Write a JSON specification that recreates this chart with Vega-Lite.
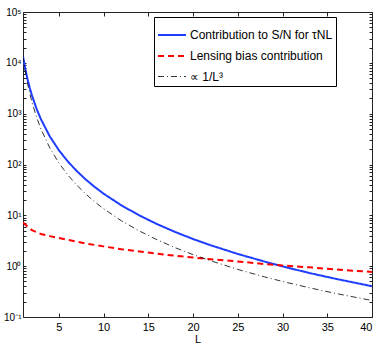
{
  "$schema": "https://vega.github.io/schema/vega-lite/v6.json",
  "width": 349,
  "height": 305,
  "autosize": {"type": "none"},
  "padding": {"left": 23, "top": 12, "right": 10, "bottom": 31},
  "config": {
    "font": "Liberation Sans",
    "view": {"stroke": null},
    "axis": {"grid": false, "domainColor": "#222", "tickColor": "#222", "labelColor": "#000", "labelFont": "Liberation Sans", "titleFont": "Liberation Sans", "titleFontWeight": "normal"},
    "legend": {"title": null, "orient": "none", "legendX": 131, "legendY": 5, "symbolType": "stroke", "symbolSize": 784, "labelFontSize": 12, "labelLimit": 400, "labelOffset": 3, "rowPadding": 0, "padding": 3, "strokeColor": "#000", "fillColor": "#fff", "cornerRadius": 0}
  },
  "data": {"values": [
    {"L": 1, "v": 13500, "s": "Contribution to S/N for τNL"},
    {"L": 1.25, "v": 7700, "s": "Contribution to S/N for τNL"},
    {"L": 1.5, "v": 4830, "s": "Contribution to S/N for τNL"},
    {"L": 1.75, "v": 3240, "s": "Contribution to S/N for τNL"},
    {"L": 2, "v": 2290, "s": "Contribution to S/N for τNL"},
    {"L": 2.5, "v": 1268, "s": "Contribution to S/N for τNL"},
    {"L": 3, "v": 779, "s": "Contribution to S/N for τNL"},
    {"L": 4, "v": 356, "s": "Contribution to S/N for τNL"},
    {"L": 5, "v": 192, "s": "Contribution to S/N for τNL"},
    {"L": 6, "v": 115, "s": "Contribution to S/N for τNL"},
    {"L": 7, "v": 74.7, "s": "Contribution to S/N for τNL"},
    {"L": 8, "v": 50.9, "s": "Contribution to S/N for τNL"},
    {"L": 9, "v": 36.3, "s": "Contribution to S/N for τNL"},
    {"L": 10, "v": 26.7, "s": "Contribution to S/N for τNL"},
    {"L": 12, "v": 15.7, "s": "Contribution to S/N for τNL"},
    {"L": 14, "v": 9.97, "s": "Contribution to S/N for τNL"},
    {"L": 16, "v": 6.7, "s": "Contribution to S/N for τNL"},
    {"L": 18, "v": 4.71, "s": "Contribution to S/N for τNL"},
    {"L": 20, "v": 3.42, "s": "Contribution to S/N for τNL"},
    {"L": 22, "v": 2.57, "s": "Contribution to S/N for τNL"},
    {"L": 25, "v": 1.74, "s": "Contribution to S/N for τNL"},
    {"L": 28, "v": 1.23, "s": "Contribution to S/N for τNL"},
    {"L": 30, "v": 0.99, "s": "Contribution to S/N for τNL"},
    {"L": 33, "v": 0.734, "s": "Contribution to S/N for τNL"},
    {"L": 36, "v": 0.561, "s": "Contribution to S/N for τNL"},
    {"L": 40, "v": 0.403, "s": "Contribution to S/N for τNL"},
    {"L": 1, "v": 7.2, "s": "Lensing bias contribution"},
    {"L": 1.5, "v": 6.0, "s": "Lensing bias contribution"},
    {"L": 2, "v": 5.1, "s": "Lensing bias contribution"},
    {"L": 3, "v": 4.3, "s": "Lensing bias contribution"},
    {"L": 4, "v": 3.9, "s": "Lensing bias contribution"},
    {"L": 5, "v": 3.6, "s": "Lensing bias contribution"},
    {"L": 6, "v": 3.3, "s": "Lensing bias contribution"},
    {"L": 7, "v": 3.05, "s": "Lensing bias contribution"},
    {"L": 8, "v": 2.8, "s": "Lensing bias contribution"},
    {"L": 10, "v": 2.45, "s": "Lensing bias contribution"},
    {"L": 12, "v": 2.15, "s": "Lensing bias contribution"},
    {"L": 15, "v": 1.85, "s": "Lensing bias contribution"},
    {"L": 18, "v": 1.6, "s": "Lensing bias contribution"},
    {"L": 20, "v": 1.48, "s": "Lensing bias contribution"},
    {"L": 22, "v": 1.37, "s": "Lensing bias contribution"},
    {"L": 25, "v": 1.24, "s": "Lensing bias contribution"},
    {"L": 28, "v": 1.1, "s": "Lensing bias contribution"},
    {"L": 30, "v": 1.03, "s": "Lensing bias contribution"},
    {"L": 33, "v": 0.95, "s": "Lensing bias contribution"},
    {"L": 36, "v": 0.86, "s": "Lensing bias contribution"},
    {"L": 40, "v": 0.77, "s": "Lensing bias contribution"},
    {"L": 1, "v": 13500, "s": "∝ 1/L³"},
    {"L": 1.25, "v": 6912, "s": "∝ 1/L³"},
    {"L": 1.5, "v": 4000, "s": "∝ 1/L³"},
    {"L": 1.75, "v": 2519, "s": "∝ 1/L³"},
    {"L": 2, "v": 1688, "s": "∝ 1/L³"},
    {"L": 2.5, "v": 864, "s": "∝ 1/L³"},
    {"L": 3, "v": 500, "s": "∝ 1/L³"},
    {"L": 4, "v": 211, "s": "∝ 1/L³"},
    {"L": 5, "v": 108, "s": "∝ 1/L³"},
    {"L": 6, "v": 62.5, "s": "∝ 1/L³"},
    {"L": 7, "v": 39.4, "s": "∝ 1/L³"},
    {"L": 8, "v": 26.4, "s": "∝ 1/L³"},
    {"L": 9, "v": 18.5, "s": "∝ 1/L³"},
    {"L": 10, "v": 13.5, "s": "∝ 1/L³"},
    {"L": 12, "v": 7.81, "s": "∝ 1/L³"},
    {"L": 14, "v": 4.92, "s": "∝ 1/L³"},
    {"L": 16, "v": 3.3, "s": "∝ 1/L³"},
    {"L": 18, "v": 2.31, "s": "∝ 1/L³"},
    {"L": 20, "v": 1.69, "s": "∝ 1/L³"},
    {"L": 22, "v": 1.27, "s": "∝ 1/L³"},
    {"L": 25, "v": 0.864, "s": "∝ 1/L³"},
    {"L": 28, "v": 0.615, "s": "∝ 1/L³"},
    {"L": 30, "v": 0.5, "s": "∝ 1/L³"},
    {"L": 33, "v": 0.376, "s": "∝ 1/L³"},
    {"L": 36, "v": 0.289, "s": "∝ 1/L³"},
    {"L": 40, "v": 0.211, "s": "∝ 1/L³"}
  ]},
  "layer": [
    {
      "mark": {"type": "line", "clip": true},
      "encoding": {
        "x": {"field": "L", "type": "quantitative", "scale": {"domain": [1, 40], "nice": false, "zero": false},
              "axis": {"orient": "bottom", "values": [5, 10, 15, 20, 25, 30, 35, 40], "tickSize": -4, "labelPadding": 8, "labelFontSize": 11, "title": "L", "titleFontSize": 11, "titlePadding": 1}},
        "y": {"field": "v", "type": "quantitative", "scale": {"type": "log", "domain": [0.1, 100000], "nice": false},
              "axis": {"orient": "left", "title": null, "tickSize": -3, "labelPadding": 5, "labelFontSize": 10,
                       "values": [0.1,0.2,0.3,0.4,0.5,0.6,0.7,0.8,0.9,1,2,3,4,5,6,7,8,9,10,20,30,40,50,60,70,80,90,100,200,300,400,500,600,700,800,900,1000,2000,3000,4000,5000,6000,7000,8000,9000,10000,20000,30000,40000,50000,60000,70000,80000,90000,100000],
                       "labelExpr": "datum.value == 100000 ? '10⁵' : datum.value == 10000 ? '10⁴' : datum.value == 1000 ? '10³' : datum.value == 100 ? '10²' : datum.value == 10 ? '10¹' : datum.value == 1 ? '10⁰' : datum.value == 0.1 ? '10⁻¹' : ''"}},
        "color": {"field": "s", "type": "nominal", "sort": null,
                  "scale": {"domain": ["Contribution to S/N for τNL", "Lensing bias contribution", "∝ 1/L³"], "range": ["#1f3dff", "#ff0000", "#000000"]}},
        "strokeDash": {"field": "s", "type": "nominal", "sort": null,
                  "scale": {"domain": ["Contribution to S/N for τNL", "Lensing bias contribution", "∝ 1/L³"], "range": [[1, 0], [6, 4], [6, 3, 1, 3]]}},
        "strokeWidth": {"field": "s", "type": "ordinal", "sort": null,
                  "scale": {"type": "ordinal", "domain": ["Contribution to S/N for τNL", "Lensing bias contribution", "∝ 1/L³"], "range": [2, 2, 0.8]}}
      }
    },
    {
      "mark": {"type": "line", "strokeOpacity": 0},
      "encoding": {
        "x": {"field": "L", "type": "quantitative", "axis": {"orient": "top", "values": [5, 10, 15, 20, 25, 30, 35, 40], "tickSize": -4, "labels": false, "title": null}},
        "y": {"field": "v", "type": "quantitative",
              "axis": {"orient": "right", "title": null, "tickSize": -3, "labels": false,
                       "values": [0.1,0.2,0.3,0.4,0.5,0.6,0.7,0.8,0.9,1,2,3,4,5,6,7,8,9,10,20,30,40,50,60,70,80,90,100,200,300,400,500,600,700,800,900,1000,2000,3000,4000,5000,6000,7000,8000,9000,10000,20000,30000,40000,50000,60000,70000,80000,90000,100000]}},
        "detail": {"field": "s", "type": "nominal"}
      }
    }
  ],
  "resolve": {"axis": {"x": "independent", "y": "independent"}}
}
